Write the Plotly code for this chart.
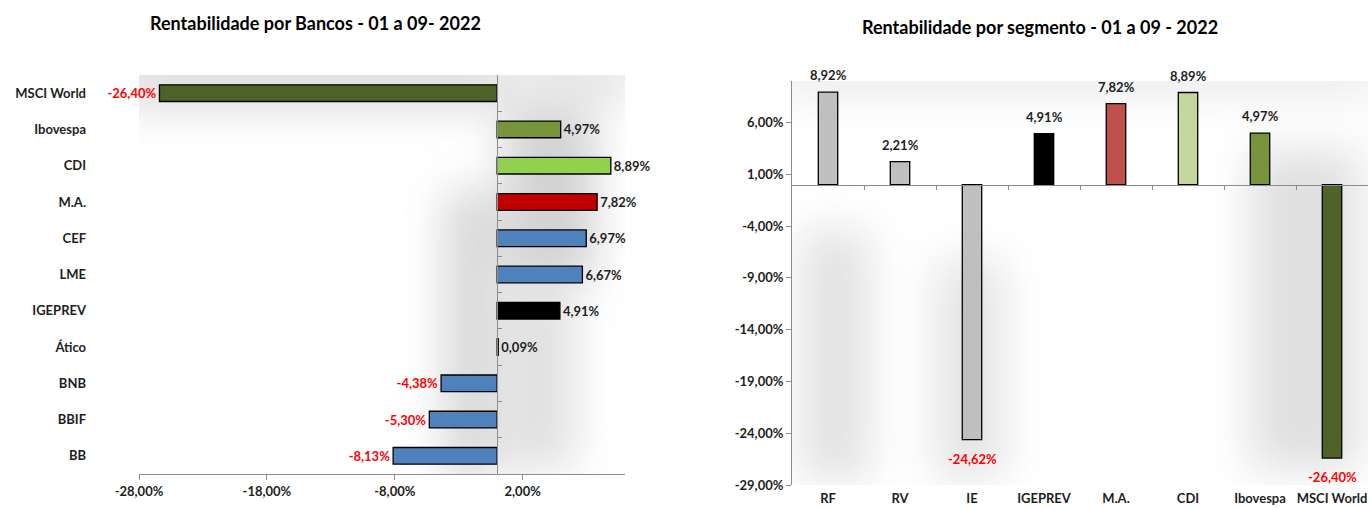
import base64
import plotly.graph_objects as go

# ---------------- data ----------------
BANK_CATEGORIES = ["MSCI World", "Ibovespa", "CDI", "M.A.", "CEF", "LME",
                   "IGEPREV", "Ático", "BNB", "BBIF", "BB"]
BANK_VALUES = [-26.40, 4.97, 8.89, 7.82, 6.97, 6.67, 4.91, 0.09, -4.38, -5.30, -8.13]
BANK_COLORS = ["#4F6228", "#77933C", "#92D050", "#C00000", "#4F81BD", "#4F81BD",
               "#000000", "#000000", "#4F81BD", "#4F81BD", "#4F81BD"]
BANK_X_TICKS = [-28, -18, -8, 2]

SEG_CATEGORIES = ["RF", "RV", "IE", "IGEPREV", "M.A.", "CDI", "Ibovespa", "MSCI World"]
SEG_VALUES = [8.92, 2.21, -24.62, 4.91, 7.82, 8.89, 4.97, -26.40]
SEG_COLORS = ["#BFBFBF", "#BFBFBF", "#BFBFBF", "#000000", "#C0504D", "#C3D69B",
              "#77933C", "#4F6228"]
SEG_Y_TICKS = [6, 1, -4, -9, -14, -19, -24, -29]

TITLE_LEFT = "Rentabilidade por Bancos - 01 a 09- 2022"
TITLE_RIGHT = "Rentabilidade por segmento - 01 a 09 - 2022"


def pct(v):
    return (f"{v:.2f}%").replace(".", ",")


# ---------------- style ----------------
W, H = 1370, 507
FONT = "Lato"
TXT = "#1e1e1e"
NEG = "#FF0000"
AX = "#8c8c8c"
LBL = 13

# plot areas in pixels -> paper fractions
L_X0, L_X1, L_Y0, L_Y1 = 139, 625, 75, 474
R_X0, R_X1, R_Y0, R_Y1 = 792, 1368, 81, 485
L_XRANGE = [-28, 10]
R_YRANGE = [-29, 10]


def px_dom_x(a, b):
    return [a / W, b / W]


def px_dom_y(top, bottom):
    return [1 - bottom / H, 1 - top / H]


lxd = px_dom_x(L_X0, L_X1)
lyd = px_dom_y(L_Y0, L_Y1)
rxd = px_dom_x(R_X0, R_X1)
ryd = px_dom_y(R_Y0, R_Y1)

zero_pos_left = lxd[0] + (lxd[1] - lxd[0]) * (0 - L_XRANGE[0]) / (L_XRANGE[1] - L_XRANGE[0])
zero_pos_right = ryd[0] + (ryd[1] - ryd[0]) * (0 - R_YRANGE[0]) / (R_YRANGE[1] - R_YRANGE[0])

# soft grey "shadow" background (decorative)
svg = f"""<svg xmlns='http://www.w3.org/2000/svg' width='{W}' height='{H}'>
<defs>
<filter id='b' x='-50%' y='-50%' width='200%' height='200%'><feGaussianBlur stdDeviation='22'/></filter>
<clipPath id='cl'><rect x='{L_X0}' y='{L_Y0}' width='{L_X1-L_X0}' height='{L_Y1-L_Y0}'/></clipPath>
<clipPath id='cr'><rect x='{R_X0}' y='{R_Y0}' width='{R_X1-R_X0}' height='{R_Y1-R_Y0}'/></clipPath>
</defs>
<g clip-path='url(#cl)'><g filter='url(#b)'>
<rect x='120' y='50' width='390' height='60' fill='#dedede'/>
<rect x='445' y='190' width='50' height='290' fill='#d6d6d6'/>
<rect x='505' y='110' width='90' height='170' fill='#d2d2d2'/>
<rect x='505' y='290' width='70' height='180' fill='#e0e0e0'/>
<rect x='520' y='50' width='120' height='50' fill='#e4e4e4'/>
</g></g>
<g clip-path='url(#cr)'><g filter='url(#b)'>
<rect x='780' y='55' width='600' height='40' fill='#eaeaea'/>
<rect x='800' y='230' width='70' height='250' fill='#e2e2e2'/>
<rect x='935' y='260' width='70' height='220' fill='#e4e4e4'/>
<rect x='1250' y='150' width='110' height='320' fill='#e0e0e0'/>
</g></g>
</svg>"""
svg_uri = "data:image/svg+xml;base64," + base64.b64encode(svg.encode()).decode()

fig = go.Figure()

# ---- left chart: horizontal bars ----
fig.add_trace(go.Bar(
    x=BANK_VALUES, y=BANK_CATEGORIES, orientation="h",
    marker=dict(color=BANK_COLORS, line=dict(color="#000000", width=1.3)),
    width=0.46,
    text=[pct(v) for v in BANK_VALUES], textposition="outside",
    textfont=dict(family=FONT, size=LBL, weight="bold",
                  color=[NEG if v < 0 else TXT for v in BANK_VALUES]),
    cliponaxis=False, xaxis="x", yaxis="y", showlegend=False, hoverinfo="x+y",
))
# helper trace for the zero-line axis with category ticks
fig.add_trace(go.Scatter(x=[None], y=[None], xaxis="x", yaxis="y3",
                         showlegend=False, hoverinfo="skip"))

# ---- right chart: vertical bars ----
fig.add_trace(go.Bar(
    x=SEG_CATEGORIES, y=SEG_VALUES,
    marker=dict(color=SEG_COLORS, line=dict(color="#000000", width=1.3)),
    width=0.27, xaxis="x2", yaxis="y2", showlegend=False, hoverinfo="x+y",
))
fig.add_trace(go.Scatter(x=[None], y=[None], xaxis="x3", yaxis="y2",
                         showlegend=False, hoverinfo="skip"))

tickfont = dict(family=FONT, size=LBL, color=TXT, weight="bold")

annotations = []
for c, v in zip(SEG_CATEGORIES, SEG_VALUES):
    annotations.append(dict(
        x=c, y=v, xref="x2", yref="y2", showarrow=False,
        text=pct(v), xanchor="center", yanchor="middle",
        yshift=17 if v >= 0 else -19,
        font=dict(family=FONT, size=LBL, weight="bold", color=NEG if v < 0 else TXT),
    ))
annotations.append(dict(x=315 / W, y=1 - 23 / H, xref="paper", yref="paper",
                        xanchor="center", yanchor="middle",
                        text=TITLE_LEFT, showarrow=False,
                        font=dict(family=FONT, size=18, weight="bold", color="#000000")))
annotations.append(dict(x=1040 / W, y=1 - 27 / H, xref="paper", yref="paper",
                        xanchor="center", yanchor="middle",
                        text=TITLE_RIGHT, showarrow=False,
                        font=dict(family=FONT, size=18, weight="bold", color="#000000")))

fig.update_layout(
    width=W, height=H,
    margin=dict(l=0, r=0, t=0, b=0, autoexpand=False),
    paper_bgcolor="#ffffff", plot_bgcolor="rgba(0,0,0,0)",
    font=dict(family=FONT, size=LBL, color=TXT),
    xaxis=dict(domain=lxd, anchor="y", range=L_XRANGE, tickmode="array",
               tickvals=BANK_X_TICKS, ticktext=[pct(v) for v in BANK_X_TICKS],
               showline=True, linecolor=AX, linewidth=1, ticks="outside",
               ticklen=5, tickcolor=AX, showgrid=False, zeroline=False,
               tickfont=tickfont, automargin=False),
    yaxis=dict(domain=lyd, anchor="x", type="category", categoryorder="array",
               categoryarray=BANK_CATEGORIES, range=[len(BANK_CATEGORIES) - 0.5, -0.5],
               showline=False, ticks="", showgrid=False, zeroline=False,
               ticklabelstandoff=52, tickfont=tickfont, automargin=False),
    yaxis3=dict(overlaying="y", anchor="free", position=zero_pos_left, side="right",
                range=[len(BANK_CATEGORIES) - 0.5, -0.5],
                tickmode="array", tickvals=[i + 0.5 for i in range(len(BANK_CATEGORIES) - 1)],
                ticks="outside", ticklen=4, tickcolor=AX, showline=True,
                linecolor=AX, linewidth=1.3, showticklabels=False,
                showgrid=False, zeroline=False, automargin=False),
    xaxis2=dict(domain=rxd, anchor="y2", type="category", categoryorder="array",
                categoryarray=SEG_CATEGORIES, range=[-0.5, len(SEG_CATEGORIES) - 0.5],
                showline=False, ticks="", showgrid=False, zeroline=False,
                ticklabelstandoff=4, tickfont=tickfont, automargin=False),
    yaxis2=dict(domain=ryd, anchor="x2", range=R_YRANGE, tickmode="array",
                tickvals=SEG_Y_TICKS, ticktext=[pct(v) for v in SEG_Y_TICKS],
                showline=True, linecolor=AX, linewidth=1, ticks="outside",
                ticklen=5, tickcolor=AX, showgrid=False, zeroline=False,
                tickfont=tickfont, automargin=False),
    xaxis3=dict(overlaying="x2", anchor="free", position=zero_pos_right, side="bottom",
                range=[-0.5, len(SEG_CATEGORIES) - 0.5],
                tickmode="array", tickvals=[i + 0.5 for i in range(len(SEG_CATEGORIES) - 1)],
                ticks="outside", ticklen=4, tickcolor=AX, showline=True,
                linecolor=AX, linewidth=1.3, showticklabels=False,
                showgrid=False, zeroline=False, automargin=False),
    annotations=annotations,
    images=[dict(source=svg_uri, xref="paper", yref="paper", x=0, y=1,
                 sizex=1, sizey=1, xanchor="left", yanchor="top",
                 sizing="stretch", layer="below")],
)

fig.write_html(
    "out.html",
    config={"displayModeBar": False},
    post_script="document.body.style.margin='0';document.body.style.overflow='hidden';",
)
